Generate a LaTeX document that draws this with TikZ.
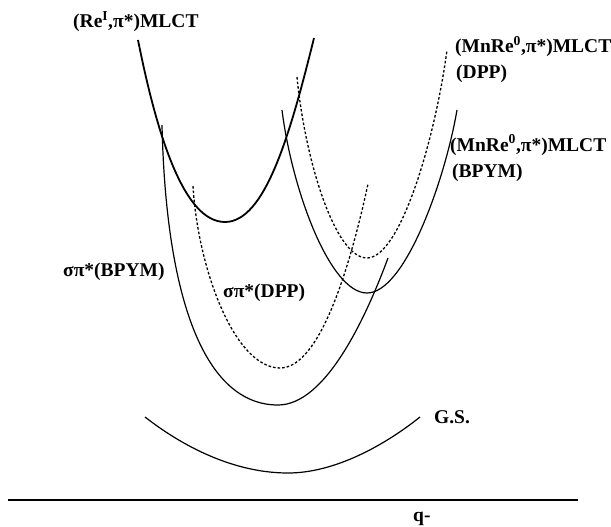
\documentclass[tikz,border=0pt]{standalone}
\usepackage{fontspec}
\setmainfont{Liberation Serif}
\usepackage{tikz}
\usetikzlibrary{positioning}

\begin{document}
\begin{tikzpicture}[
    x=1pt, y=-1pt,
    pes/.style={line width=1.2pt, black},
    pesthick/.style={line width=1.8pt, black},
    pesdash/.style={line width=1.3pt, black, dash pattern=on 2.6pt off 2pt},
    statelabel/.style={font=\fontsize{19.5}{23}\selectfont\bfseries, inner sep=0pt, anchor=base west},
]
\useasboundingbox (0,0) rectangle (611,527);

% (Re^I,pi*) MLCT
\draw[pesthick] (138,40) .. controls (158,140) and (185,222) .. (225,222)
    .. controls (265,222) and (290,135) .. (314,38);

% sigma pi* (BPYM)
\draw[pes] (162,125) .. controls (166,300) and (205,405) .. (278,405)
    .. controls (325,405) and (365,320) .. (388,258);

% sigma pi* (DPP)
\draw[pesdash] (193,186) .. controls (198,270) and (235,368) .. (280,368)
    .. controls (315,368) and (345,290) .. (368,184);

% (MnRe^0,pi*) MLCT (BPYM)
\draw[pes] (282,110) .. controls (292,190) and (330,293) .. (367,293)
    .. controls (405,293) and (445,180) .. (457,110);

% (MnRe^0,pi*) MLCT (DPP)
\draw[pesdash] (297,77) .. controls (305,160) and (335,258) .. (367,258)
    .. controls (400,258) and (435,140) .. (447,50);

% ground state
\draw[pes] (145,417) .. controls (190,452) and (240,473) .. (288,473)
    .. controls (335,473) and (385,445) .. (420,417);

% axis
\draw[line width=1.6pt] (8,500) coordinate (axl) -- (578,500) coordinate (axr);

% labels
\node[statelabel] (reI) at (73,28) {(Re\textsuperscript{I},π*)MLCT};
\node[statelabel] (mndpp) at (455,53) {(MnRe\textsuperscript{0},π*)MLCT};
\node[statelabel] (mndpp2) at (456,78) {(DPP)};
\node[statelabel] (mnbpym) at (450,151) {(MnRe\textsuperscript{0},π*)MLCT};
\node[statelabel] (mnbpym2) at (452,177) {(BPYM)};
\node[statelabel] (sbpym) at (63,276) {σπ*(BPYM)};
\node[statelabel] (sdpp) at (223,297) {σπ*(DPP)};
\node[statelabel] (gs) at (434,423) {G.S.};
\node[statelabel] (q) at (413,521) {q-};

\end{tikzpicture}
\end{document}
